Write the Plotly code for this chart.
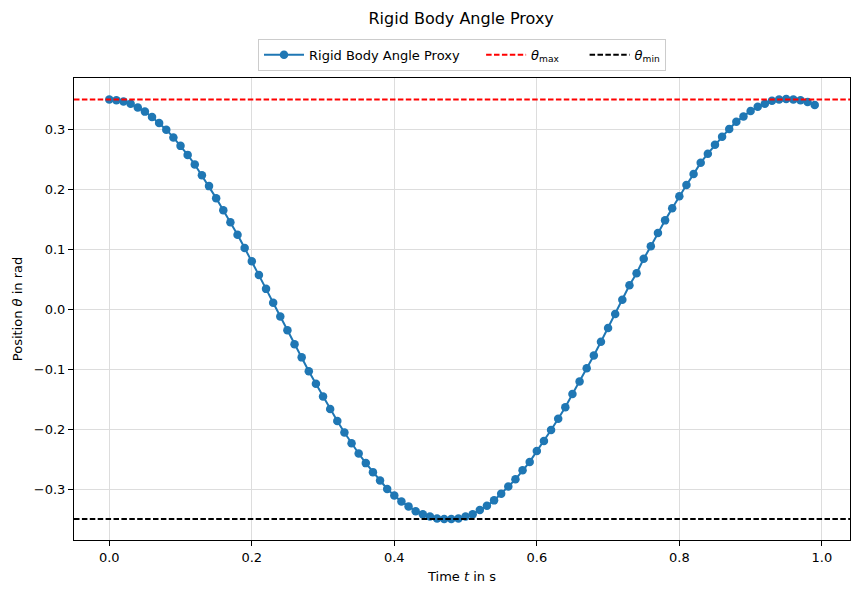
import plotly.graph_objects as go

# Time samples (s)
t = [round(0.01 * i, 2) for i in range(100)]

# Angle values (rad)
theta = [
    0.349, 0.348, 0.346, 0.342, 0.336, 0.329, 0.320, 0.310, 0.299, 0.286,
    0.272, 0.257, 0.241, 0.223, 0.205, 0.185, 0.165, 0.145, 0.124, 0.102,
    0.080, 0.057, 0.034, 0.011, -0.012, -0.035, -0.058, -0.080, -0.103, -0.124,
    -0.145, -0.166, -0.186, -0.205, -0.223, -0.240, -0.256, -0.271, -0.285, -0.299,
    -0.310, -0.320, -0.328, -0.336, -0.341, -0.345, -0.348, -0.349, -0.349, -0.348,
    -0.345, -0.341, -0.334, -0.327, -0.318, -0.307, -0.295, -0.283, -0.268, -0.254,
    -0.236, -0.219, -0.201, -0.182, -0.163, -0.141, -0.120, -0.098, -0.077, -0.054,
    -0.031, -0.008, 0.016, 0.040, 0.060, 0.084, 0.105, 0.127, 0.148, 0.168,
    0.188, 0.207, 0.225, 0.244, 0.259, 0.274, 0.287, 0.300, 0.312, 0.321,
    0.330, 0.337, 0.342, 0.347, 0.349, 0.350, 0.349, 0.348, 0.345, 0.340,
]

theta_max = 0.349
theta_min = -0.349

x_ticks = [0.0, 0.2, 0.4, 0.6, 0.8, 1.0]
y_ticks = [-0.3, -0.2, -0.1, 0.0, 0.1, 0.2, 0.3]

FONT = "DejaVu Sans"
BLUE = "#1f77b4"
NB = "\u00a0"

# matplotlib-like 5% margins
xspan = max(t) - min(t)
xr = [min(t) - 0.05 * xspan, max(t) + 0.05 * xspan]
ylo = min(min(theta), theta_min)
yhi = max(max(theta), theta_max)
yspan = yhi - ylo
yr = [ylo - 0.05 * yspan, yhi + 0.05 * yspan]

fig = go.Figure()
fig.add_trace(go.Scatter(
    x=t, y=theta, mode="lines+markers", name="Rigid Body Angle Proxy" + NB * 4,
    line=dict(color=BLUE, width=2),
    marker=dict(color=BLUE, size=8.5, symbol="circle"),
))
fig.add_trace(go.Scatter(
    x=[None], y=[None], mode="lines", name="<i>θ</i><sub>max</sub>" + NB * 5,
    line=dict(color="red", width=2, dash="5.5px,2.4px"),
))
fig.add_trace(go.Scatter(
    x=[None], y=[None], mode="lines", name="<i>θ</i><sub>min</sub>",
    line=dict(color="black", width=2, dash="5.5px,2.4px"),
))

for val, col in [(theta_max, "red"), (theta_min, "black")]:
    fig.add_shape(type="line", xref="x domain", yref="y", x0=0, x1=1, y0=val, y1=val,
                  line=dict(color=col, width=2, dash="5.5px,2.4px"), layer="above")

axis_common = dict(
    showline=True, linecolor="black", linewidth=1.1, mirror=True,
    ticks="outside", ticklen=5, tickwidth=1, tickcolor="black",
    showgrid=True, gridcolor="#dddddd", gridwidth=1,
    zeroline=False, tickfont=dict(family=FONT, size=13, color="black"),
    tickformat=".1f",
)

fig.update_layout(
    width=858, height=594,
    margin=dict(l=74, r=8, t=78, b=54),
    paper_bgcolor="white", plot_bgcolor="white",
    font=dict(family=FONT, size=13, color="black"),
    title=dict(text="Rigid Body Angle Proxy", x=0.5375, xanchor="center",
               y=1 - 18 / 594, yanchor="middle",
               font=dict(family=FONT, size=16, color="black")),
    xaxis=dict(range=xr, tickvals=x_ticks,
               title=dict(text="Time <i>t</i> in s", standoff=8,
                          font=dict(family=FONT, size=13)),
               **axis_common),
    yaxis=dict(range=yr, tickvals=y_ticks,
               title=dict(text="Position <i>θ</i> in rad", standoff=8,
                          font=dict(family=FONT, size=13)),
               **axis_common),
    legend=dict(orientation="h", x=0.5, xanchor="center", y=1.085, yanchor="top",
                bordercolor="#cccccc", borderwidth=1, bgcolor="white",
                font=dict(family=FONT, size=13), itemwidth=40,
                tracegroupgap=0),
    showlegend=True,
)

fig.write_html("out.html")
